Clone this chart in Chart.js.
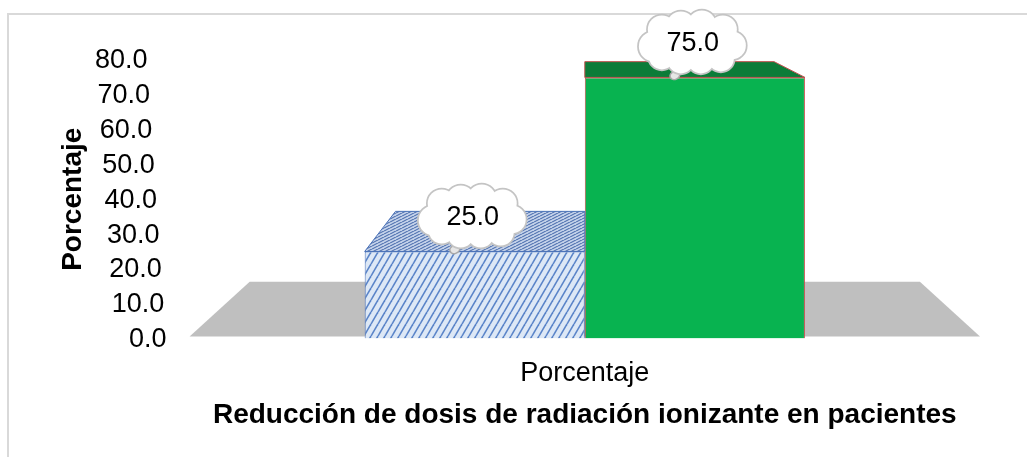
<!DOCTYPE html>
<html><head><meta charset="utf-8">
<script src="https://cdn.jsdelivr.net/npm/chart.js@4.4.1/dist/chart.umd.min.js"></script>
<style>html,body{margin:0;padding:0;background:#fff;}#wrap{width:1027px;height:457px;}</style>
</head><body><div id="wrap"><canvas id="c" width="1027" height="457"></canvas></div>
<script>
// ---- data ----
const categories = ['Porcentaje'];
const seriesNames = ['Serie 1', 'Serie 2'];
const seriesA = [25.0];
const seriesB = [75.0];
const yTickValues = [0, 10, 20, 30, 40, 50, 60, 70, 80];
const xAxisTitle = 'Reducción de dosis de radiación ionizante en pacientes';
const yAxisTitle = 'Porcentaje';

const FONT = "'Liberation Sans', Arial, sans-serif";
const canvas = document.getElementById('c');
const mainCtx = canvas.getContext('2d');

function makeStripes(w, h, bg, fg, lw) {
  const c = document.createElement('canvas'); c.width = w; c.height = h;
  const g = c.getContext('2d');
  g.fillStyle = bg; g.fillRect(0, 0, w, h);
  g.strokeStyle = fg; g.lineWidth = lw;
  for (let k = -1; k <= 1; k++) { g.beginPath(); g.moveTo(k * w, h); g.lineTo(k * w + w, 0); g.stroke(); }
  return mainCtx.createPattern(c, 'repeat');
}
const frontPattern = makeStripes(7, 12, '#dde8f6', '#5a84c8', 1.6);
const topPattern = makeStripes(6, 3, '#c4d2ea', '#4d6fae', 1.1);

const STYLE = [
  { front: frontPattern, top: topPattern, border: '#4a72b8' },
  { front: '#08b350', top: '#0b7c38', border: '#c0504d' }
];

function vp(chart) {
  const a = chart.chartArea;
  return { x: (a.left + a.right) / 2, y: a.top - 95 };
}
function toward(p, v, f) { return { x: p.x + (v.x - p.x) * f, y: p.y + (v.y - p.y) * f }; }

function drawCloud(ctx, cx, cy, tx, ty, text) {
  const bumps = [
    [-39, 4, 15], [-31, -13, 14], [-12, -17, 14], [9, -18, 14], [30, -13, 14],
    [39, 3, 14], [28, 16, 13], [8, 18, 13], [-12, 18, 13], [-31, 14, 13]
  ];
  ctx.save();
  ctx.fillStyle = '#e6e6e6'; ctx.strokeStyle = '#a8a8a8'; ctx.lineWidth = 1.5;
  ctx.beginPath(); ctx.ellipse(tx, ty, 5, 4, -0.4, 0, Math.PI * 2); ctx.fill(); ctx.stroke();
  ctx.beginPath(); ctx.ellipse(tx + 5, ty - 6, 3, 2.5, 0, 0, Math.PI * 2); ctx.fill(); ctx.stroke();
  ctx.strokeStyle = '#c4c4c4'; ctx.lineWidth = 3.5;
  for (const [dx, dy, r] of bumps) { ctx.beginPath(); ctx.arc(cx + dx, cy + dy, r, 0, Math.PI * 2); ctx.stroke(); }
  ctx.fillStyle = '#ffffff';
  for (const [dx, dy, r] of bumps) { ctx.beginPath(); ctx.arc(cx + dx, cy + dy, r, 0, Math.PI * 2); ctx.fill(); }
  ctx.beginPath(); ctx.ellipse(cx, cy, 38, 19, 0, 0, Math.PI * 2); ctx.fill();
  ctx.fillStyle = '#000'; ctx.font = '27px ' + FONT; ctx.textAlign = 'center'; ctx.textBaseline = 'middle';
  ctx.fillText(text, cx, cy + 1);
  ctx.restore();
}

const depthPlugin = {
  id: 'depth3d',
  beforeDraw(chart) {
    const ctx = chart.ctx;
    ctx.save();
    ctx.fillStyle = '#fff'; ctx.fillRect(0, 0, chart.width, chart.height);
    ctx.strokeStyle = '#d9d9d9'; ctx.lineWidth = 2;
    ctx.strokeRect(8, 14, chart.width + 20, chart.height + 20);
    ctx.restore();
  },
  beforeDatasetsDraw(chart) {
    const ctx = chart.ctx, a = chart.chartArea, y = chart.scales.y;
    const base = y.getPixelForValue(0), v = vp(chart), f = 0.152;
    const fl = { x: a.left, y: base }, fr = { x: a.right, y: base };
    const bl = toward(fl, v, f), br = toward(fr, v, f);
    ctx.save();
    ctx.fillStyle = '#bfbfbf';
    ctx.beginPath(); ctx.moveTo(fl.x, fl.y - 2); ctx.lineTo(bl.x, bl.y); ctx.lineTo(br.x, br.y); ctx.lineTo(fr.x, fr.y - 2); ctx.closePath(); ctx.fill();
    ctx.restore();
  },
  afterDatasetsDraw(chart) {
    const ctx = chart.ctx, v = vp(chart), f = 0.14;
    const items = [];
    chart.data.datasets.forEach((ds, di) => {
      const meta = chart.getDatasetMeta(di);
      meta.data.forEach((bar, i) => {
        const p = bar.getProps(['x', 'y', 'width', 'base'], true);
        const L = { x: p.x - p.width / 2, y: p.y }, R = { x: p.x + p.width / 2, y: p.y };
        const bL = toward(L, v, f), bR = toward(R, v, f);
        ctx.save();
        ctx.beginPath(); ctx.moveTo(L.x, L.y); ctx.lineTo(bL.x, bL.y); ctx.lineTo(bR.x, bR.y); ctx.lineTo(R.x, R.y); ctx.closePath();
        ctx.fillStyle = STYLE[di].top; ctx.fill();
        ctx.strokeStyle = STYLE[di].border; ctx.lineWidth = 1; ctx.stroke();
        ctx.restore();
        items.push({ x: p.x, y: p.y, val: ds.data[i] });
      });
    });
    items.forEach(it => drawCloud(ctx, it.x - 2, it.y - 35, it.x - 20, it.y - 2, it.val.toFixed(1)));
  },
  afterDraw(chart) {
    const ctx = chart.ctx, y = chart.scales.y, a = chart.chartArea;
    ctx.save();
    ctx.fillStyle = '#000'; ctx.font = '27px ' + FONT; ctx.textAlign = 'right'; ctx.textBaseline = 'middle';
    yTickValues.forEach(t => {
      const py = y.getPixelForValue(t);
      const px = a.left - 23 - (t / y.max) * 19;
      ctx.fillText(t.toFixed(1), px, py + 1);
    });
    ctx.restore();
  }
};

new Chart(canvas, {
  type: 'bar',
  data: {
    labels: categories,
    datasets: [
      { label: seriesNames[0], data: seriesA, backgroundColor: STYLE[0].front, borderColor: STYLE[0].border, borderWidth: 1 },
      { label: seriesNames[1], data: seriesB, backgroundColor: STYLE[1].front, borderColor: STYLE[1].border, borderWidth: 1 }
    ]
  },
  options: {
    responsive: false,
    animation: false,
    devicePixelRatio: 1,
    categoryPercentage: 0.557,
    barPercentage: 1,
    layout: { padding: { left: 0, top: 60, right: 47, bottom: 28 } },
    plugins: { legend: { display: false }, tooltip: { enabled: false } },
    scales: {
      x: {
        grid: { display: false, drawTicks: false, tickLength: 0 },
        border: { display: false },
        ticks: { color: '#000', font: { family: FONT, size: 27, lineHeight: 1.0 }, padding: 21.5 },
        title: { display: true, text: xAxisTitle, color: '#000', font: { family: FONT, size: 28, weight: 'bold', lineHeight: 1.0 }, padding: { top: -7.5, bottom: 0 } }
      },
      y: {
        min: 0, max: 80,
        grid: { display: false, drawTicks: false, tickLength: 0 },
        border: { display: false },
        ticks: { display: false, stepSize: 10 },
        title: { display: true, text: yAxisTitle, color: '#000', font: { family: FONT, size: 28, weight: 'bold', lineHeight: 1.2 }, padding: { top: 56, bottom: 100 } }
      }
    }
  },
  plugins: [depthPlugin]
});
</script>
</body></html>
